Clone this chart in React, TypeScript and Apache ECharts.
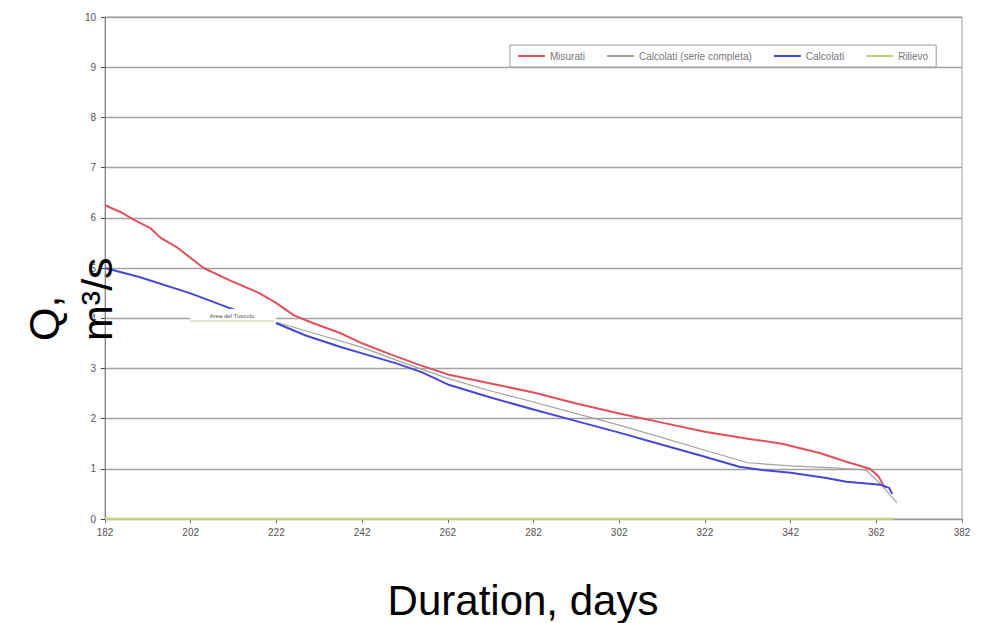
import React, { useEffect, useRef } from "react";
import * as echarts from "echarts";

const X0 = 182; // first day on the axis
const xTickStart = 182;
const xTickEnd = 382;

const seriesNames = ["Misurati", "Calcolati (serie completa)", "Calcolati", "Rilievo"];

const measuredDays = [182, 186, 189, 192.5, 195, 199, 205, 211, 218, 222, 226, 230, 237, 242, 248, 255, 262, 272, 282, 292, 302, 312, 322, 332, 340, 349, 355, 360.5, 362.5, 364];
const measuredQ = [6.25, 6.1, 5.95, 5.8, 5.6, 5.4, 5.0, 4.76, 4.5, 4.3, 4.06, 3.92, 3.7, 3.5, 3.3, 3.08, 2.88, 2.7, 2.52, 2.3, 2.1, 1.92, 1.74, 1.6, 1.5, 1.31, 1.14, 1.0, 0.85, 0.62];

const fullDays = [222, 230, 242, 252, 262, 272, 282, 292, 302, 312, 322, 332, 342, 352, 359.5, 363, 366.8];
const fullQ = [3.92, 3.72, 3.42, 3.1, 2.8, 2.55, 2.33, 2.1, 1.87, 1.62, 1.37, 1.12, 1.06, 1.02, 0.98, 0.7, 0.32];

const calcDays = [182, 190, 201.8, 210.5, 216, 222, 229, 236.8, 242, 250, 256, 262, 272, 282, 292, 302, 312, 322, 330, 336, 342, 350, 355, 363, 365, 365.7];
const calcQ = [5.0, 4.82, 4.5, 4.22, 4.05, 3.9, 3.65, 3.43, 3.3, 3.1, 2.92, 2.68, 2.42, 2.18, 1.95, 1.72, 1.48, 1.24, 1.04, 0.97, 0.92, 0.82, 0.74, 0.68, 0.62, 0.5];

const surveyDays = [182, 366];
const surveyQ = [0, 0];

const annotationText = "Area del Tuscolo";
const yTitleA = "Q,";
const yTitleB = "m³/s";
const xTitle = "Duration, days";

const pairs = (days: number[], q: number[]) => days.map((d, i) => [d - X0, q[i]]);

const FONT = "'Liberation Sans', Arial, sans-serif";

export default function App() {
  const ref = useRef<HTMLDivElement>(null);
  useEffect(() => {
    document.body.style.margin = "0";
    if (!ref.current) return;
    const chart = echarts.init(ref.current, null, { renderer: "svg" });
    const option: any = {
      animation: false,
      backgroundColor: "#ffffff",
      textStyle: { fontFamily: FONT },
      grid: { left: 105, right: 20, top: 17, bottom: 104, show: true, borderColor: "#a0a0a0", borderWidth: 1 },
      legend: {
        left: 510,
        top: 45,
        data: seriesNames,
        icon: "rect",
        itemWidth: 27,
        itemHeight: 2,
        itemGap: 22,
        padding: [6, 8],
        borderColor: "#9a9a9a",
        borderWidth: 1,
        backgroundColor: "#fff",
        textStyle: { fontSize: 10, color: "#777", fontFamily: FONT },
      },
      xAxis: {
        type: "value",
        min: 0,
        max: xTickEnd - xTickStart,
        interval: 20,
        axisLabel: { formatter: (v: number) => String(v + xTickStart), fontSize: 10, color: "#555", margin: 8 },
        axisLine: { show: true, lineStyle: { color: "#999" } },
        axisTick: { show: true, length: 4, lineStyle: { color: "#777" } },
        splitLine: { show: false },
      },
      yAxis: {
        type: "value",
        min: 0,
        max: 10,
        interval: 1,
        axisLabel: { fontSize: 10, color: "#555", margin: 9 },
        axisLine: { show: true, lineStyle: { color: "#888" } },
        axisTick: { show: true, length: 4, lineStyle: { color: "#444" } },
        splitLine: { show: true, lineStyle: { color: "#a3a3a3", width: 1.3 } },
      },
      series: [
        {
          name: seriesNames[3],
          type: "line",
          data: pairs(surveyDays, surveyQ),
          symbol: "none",
          lineStyle: { color: "#c2cf7a", width: 2.5 },
          itemStyle: { color: "#c2cf7a" },
          z: 2,
        },
        {
          name: seriesNames[0],
          type: "line",
          data: pairs(measuredDays, measuredQ),
          symbol: "none",
          lineStyle: { color: "#e0505e", width: 2 },
          itemStyle: { color: "#e0505e" },
          z: 3,
        },
        {
          name: seriesNames[1],
          type: "line",
          data: pairs(fullDays, fullQ),
          symbol: "none",
          lineStyle: { color: "#a4a49a", width: 1.2 },
          itemStyle: { color: "#a4a49a" },
          z: 4,
        },
        {
          name: seriesNames[2],
          type: "line",
          data: pairs(calcDays, calcQ),
          symbol: "none",
          lineStyle: { color: "#4646d8", width: 2 },
          itemStyle: { color: "#4646d8" },
          z: 5,
        },
      ],
      graphic: [
        {
          type: "rect",
          z: 100,
          shape: { x: 190, y: 309, width: 86, height: 15 },
          style: { fill: "#ffffff", stroke: "none" },
        },
        {
          type: "line",
          z: 101,
          shape: { x1: 190, y1: 321, x2: 274, y2: 321 },
          style: { stroke: "#c8c890", lineWidth: 1 },
        },
        {
          type: "text",
          z: 102,
          x: 232,
          y: 316,
          style: { text: annotationText, fontSize: 6, fill: "#555", align: "center", verticalAlign: "middle", fontFamily: FONT },
        },
        {
          type: "text",
          x: 44,
          y: 341,
          rotation: Math.PI / 2,
          z: 100,
          style: { text: yTitleA, fontSize: 43, fill: "#000", align: "left", verticalAlign: "middle", fontFamily: FONT },
        },
        {
          type: "text",
          x: 97,
          y: 341,
          rotation: Math.PI / 2,
          z: 100,
          style: { text: yTitleB, fontSize: 43, fill: "#000", align: "left", verticalAlign: "middle", fontFamily: FONT },
        },
        {
          type: "text",
          x: 523,
          y: 600,
          z: 100,
          style: { text: xTitle, fontSize: 42, fill: "#000", align: "center", verticalAlign: "middle", fontFamily: FONT },
        },
      ],
    };
    chart.setOption(option);
    return () => chart.dispose();
  }, []);
  return <div ref={ref} style={{ width: 982, height: 623 }} />;
}
